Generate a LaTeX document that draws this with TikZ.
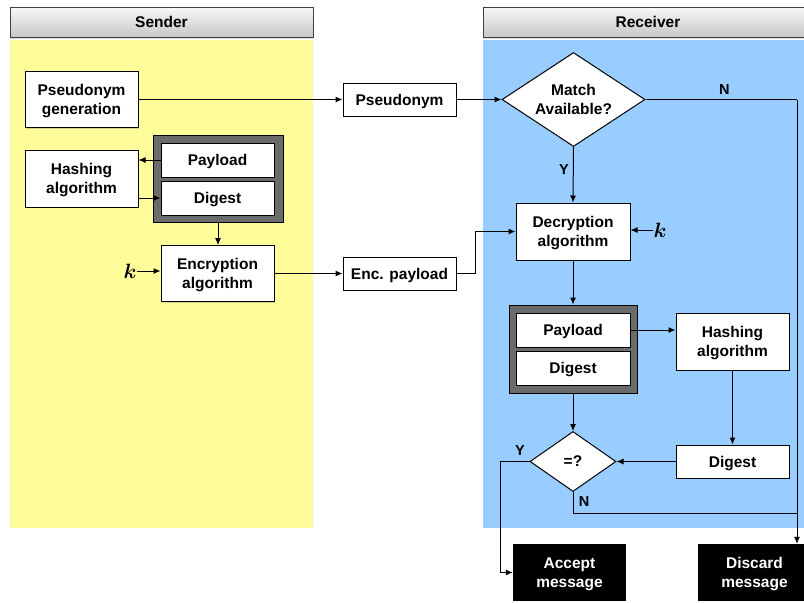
\documentclass[tikz,border=0pt]{standalone}
\usepackage{fontspec}
\setmainfont{Liberation Sans}
\usepackage{bm}
\usetikzlibrary{shapes.geometric,shadows,arrows.meta}
\begin{document}
\begin{tikzpicture}[x=1pt,y=-1pt,
  txt/.style={font=\bfseries\fontsize{15.5}{19}\selectfont, align=center, text depth=0pt},
  box/.style={txt, draw=black, fill=white, line width=1pt, inner sep=0pt,
    drop shadow={shadow xshift=1pt, shadow yshift=-1.2pt, opacity=0.35}},
  outer/.style={draw=black, fill=black!58, line width=1pt, inner sep=0pt,
    drop shadow={shadow xshift=1pt, shadow yshift=-1.2pt, opacity=0.35}},
  dec/.style={txt, diamond, draw=black, fill=white, line width=1pt, inner sep=0pt},
  term/.style={txt, fill=black, text=white, inner sep=0pt},
  hdr/.style={txt, draw=black!75, line width=0.7pt, top color=black!3, bottom color=black!22,
    inner sep=0pt, drop shadow={shadow xshift=0pt, shadow yshift=-1.5pt, opacity=0.3}},
  arr/.style={-{Latex[length=7pt,width=6pt]}, line width=1pt},
  ln/.style={line width=1pt},
  kk/.style={font=\fontsize{21}{21}\selectfont, inner sep=0pt},
  lab/.style={txt, font=\bfseries\fontsize{14.5}{16}\selectfont, inner sep=0pt}
]
\clip (0,0) rectangle (804,603);
\useasboundingbox (0,0) rectangle (804,603);
% lanes
\fill[fill={rgb,255:red,255;green,253;blue,153}] (10,40) rectangle (313,528);
\fill[fill={rgb,255:red,153;green,204;blue,255}] (483,40) rectangle (810,528);
\node[hdr, minimum width=303pt, minimum height=30pt] (sh) at (161.5,22) {Sender};
\node[hdr, minimum width=330pt, minimum height=30pt] (rh) at (648,22) {Receiver};

% sender
\node[box, minimum width=113pt, minimum height=56pt] (pg) at (81.5,99.5) {Pseudonym\\generation};
\node[box, minimum width=113pt, minimum height=57pt] (ha) at (81.5,178.5) {Hashing\\algorithm};
\node[outer, minimum width=130pt, minimum height=87pt] (ob) at (218,178.5) {};
\node[box, minimum width=113pt, minimum height=34pt] (pl) at (217.5,160) {Payload};
\node[box, minimum width=113pt, minimum height=34pt] (dg) at (217.5,198) {Digest};
\node[box, minimum width=113pt, minimum height=56pt] (en) at (217.5,273.5) {Encryption\\algorithm};
\node[kk] (k1) at (130,271) {$\bm{k}$};

% middle
\node[box, minimum width=113pt, minimum height=33pt] (ps) at (399.5,99.5) {Pseudonym};
\node[box, minimum width=113pt, minimum height=33pt] (ep) at (399.5,273.5) {Enc. payload};

% receiver
\node[dec, minimum width=143pt, minimum height=94pt] (ma) at (573.5,99.5) {};
\node[txt] at (ma) {Match\\Available?};
\node[box, minimum width=114pt, minimum height=57pt] (de) at (573,231.5) {Decryption\\algorithm};
\node[kk] (k2) at (660,230) {$\bm{k}$};
\node[outer, minimum width=128pt, minimum height=88pt] (ob2) at (573,349) {};
\node[box, minimum width=114pt, minimum height=34pt] (pl2) at (573,330) {Payload};
\node[box, minimum width=114pt, minimum height=34pt] (dg2) at (573,368) {Digest};
\node[box, minimum width=113pt, minimum height=57pt] (ha2) at (732.5,341.5) {Hashing\\algorithm};
\node[box, minimum width=113pt, minimum height=33pt] (dg3) at (732.5,461.5) {Digest};
\node[dec, minimum width=86pt, minimum height=60pt] (eq) at (573,461.5) {};
\node[txt] at (eq) {=?};
\node[term, minimum width=113pt, minimum height=57pt] (ac) at (569.5,572.5) {Accept\\message};
\node[term, minimum width=113pt, minimum height=57pt] (di) at (754.5,572.5) {Discard\\message};

\coordinate (nc) at (797,99.5);
\coordinate (yc) at (500,461.5);

% connectors sender
\draw[arr] (pg.east) -- (ps.west);
\draw[arr] (pl.west) -- (pl.west -| ha.east);
\draw[arr] (ha.east |- dg.west) -- (dg.west);
\draw[arr] (ob.south) -- (ob.south |- en.north);
\draw[arr] (k1.east) -- (k1.east -| en.west);
\draw[arr] (en.east) -- (ep.west);
\draw[arr] (ps.east) -- (ma.west);
\draw[arr] (ep.east) -| (475,231.5) -- (de.west);
% receiver
\draw[arr] (ma.south) -- node[lab, pos=0.4, left=4pt] {Y} (de.north);
\draw[arr] (k2.west) -- (k2.west -| de.east);
\draw[arr] (de.south) -- (ob2.north);
\draw[arr] (pl2.east) -- (pl2.east -| ha2.west);
\draw[arr] (ha2.south) -- (dg3.north);
\draw[arr] (dg3.west) -- (eq.east);
\draw[arr] (ob2.south) -- (eq.north);
\draw[ln] (ma.east) -- node[lab, above=5pt, pos=0.52] {N} (nc);
\draw[arr] (nc) -- (nc |- di.north);
\draw[ln] (eq.south) |- (797,513);
\node[lab] at (584,502) {N};
\draw[ln] (eq.west) -- (yc);
\node[lab] at (520,451) {Y};
\draw[arr] (yc) |- (ac.west);
\end{tikzpicture}
\end{document}
